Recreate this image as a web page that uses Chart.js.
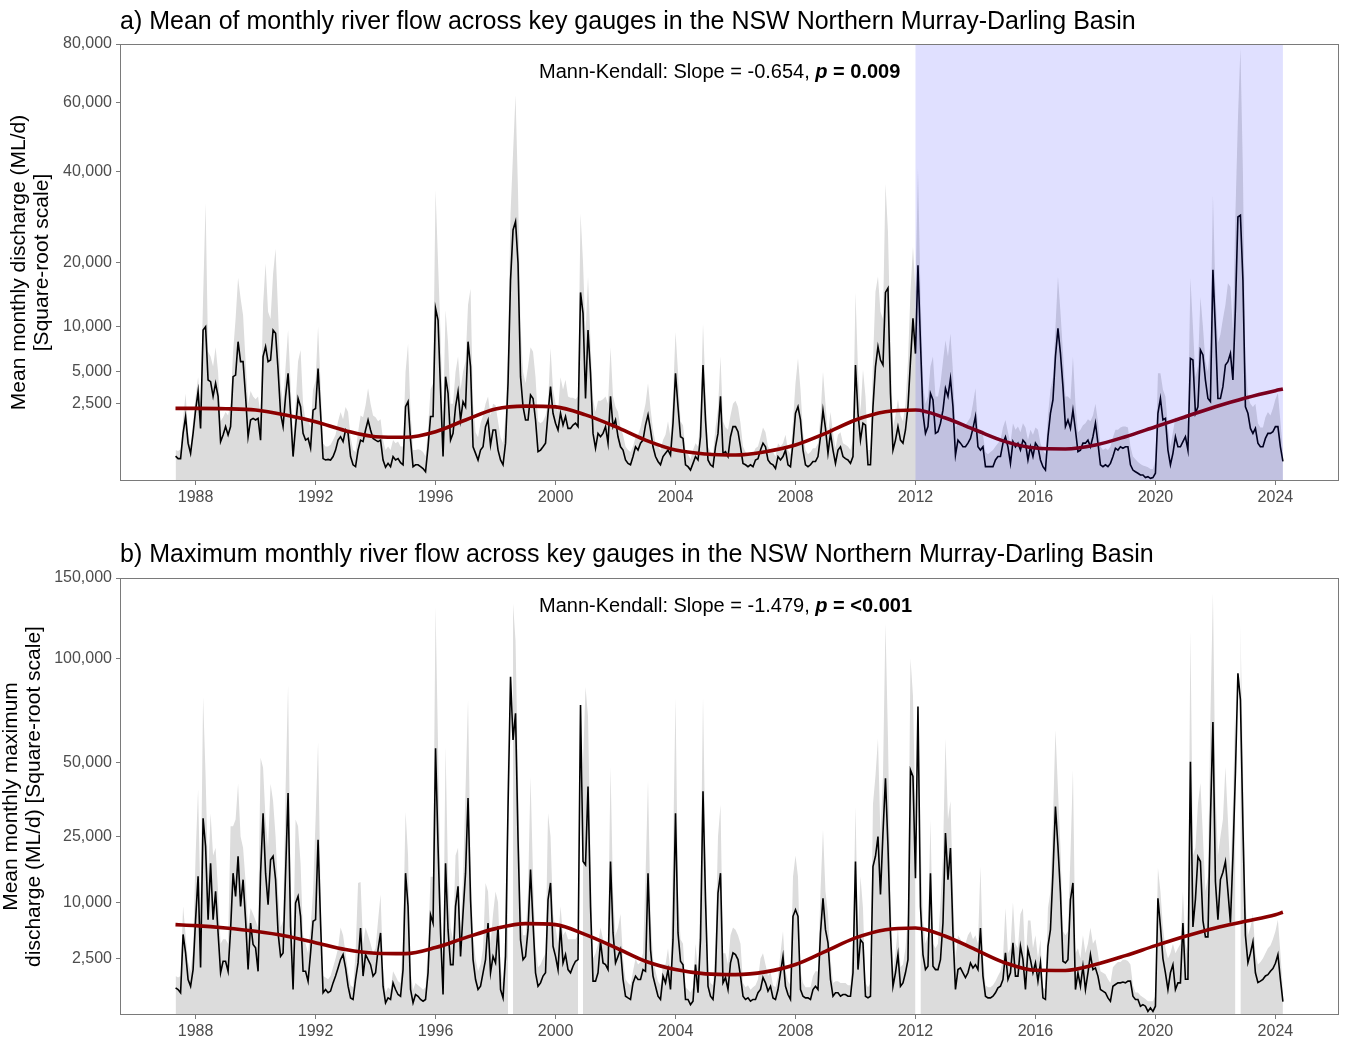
<!DOCTYPE html>
<html><head><meta charset="utf-8">
<script src="https://cdn.jsdelivr.net/npm/chart.js@4.4.1/dist/chart.umd.min.js"></script>
<style>
html,body{margin:0;padding:0;background:#fff;}
#wrap{position:relative;width:1345px;height:1046px;}
.box{position:absolute;left:0;width:1345px;height:523px;}
</style></head><body>
<div id="wrap">
<div class="box" style="top:0"><canvas id="cA"></canvas></div>
<div class="box" style="top:523px"><canvas id="cB"></canvas></div>
</div>
<script>
// ---------- DATA ----------
const START_YEAR = 1987, START_MONTH = 5; // first month: May 1987, monthly to Apr 2024

// a) mean of monthly flow (ML/d) - black line
const meanVal = [
260,210,210,950,1740,600,320,950,2100,3350,1160,9550,
9980,4270,4130,3000,4000,3000,650,890,1240,890,1240,4560,
4700,8130,5970,5970,3000,820,1560,1640,1560,1640,700,6480,
7560,5970,6130,9550,9140,5160,1920,1240,3000,4860,1920,250,
1240,2850,2310,950,700,760,450,2100,2200,5300,1920,210,
185,195,185,250,400,700,820,650,1090,950,250,110,
86,400,700,650,1090,1560,1090,760,700,650,700,185,
80,130,86,250,185,210,140,110,2310,2640,700,86,
110,110,86,65,36,490,1740,1740,12500,10860,3470,250,
4560,3220,700,950,2310,3350,1560,2640,2310,8130,5480,490,
320,185,400,490,1240,1560,540,1090,1090,400,185,110,
600,4000,16900,26400,28200,19850,4560,2310,1560,1560,3100,2850,
1560,360,400,490,600,1920,3730,1920,1400,1090,1920,1310,
1740,1160,1160,1310,1400,1240,14900,11780,2850,9550,4860,950,
450,950,820,950,1240,600,3000,1240,1560,820,490,400,
185,130,110,250,490,400,600,700,1310,1830,1090,490,
250,160,110,250,320,400,280,1400,4860,2310,820,760,
110,86,50,130,250,185,820,5640,1560,185,110,86,
490,950,3000,320,360,250,820,1240,1240,1020,490,130,
110,86,110,86,185,210,400,600,490,185,130,110,
65,250,185,250,400,110,86,600,1920,2310,1560,400,
110,86,110,160,160,250,820,2100,1160,320,950,400,
130,400,490,250,210,185,130,250,5640,1920,700,1400,
1310,110,110,2310,5480,7560,6130,5640,14900,15600,3220,400,
700,1240,700,600,1090,2310,6000,11100,6800,19500,8000,1900,
950,1240,3220,2750,950,1020,1400,2100,3600,3000,4400,2310,
280,700,600,490,490,600,760,1160,1740,490,400,490,
86,86,86,86,185,250,250,600,820,490,130,650,
490,600,400,700,600,185,490,250,600,490,185,86,
50,820,1920,2750,6500,9760,6830,3730,1240,1560,1160,2100,
1090,360,400,600,600,700,490,820,1400,600,110,86,
110,86,130,250,450,400,490,450,490,490,110,50,
36,25,15,15,5,8,3,5,25,1920,2850,1560,
1640,400,110,320,820,490,490,650,820,400,6300,6130,
1920,2310,7190,6650,4270,2850,2640,18700,9550,2850,2850,3730,
5640,5970,6830,4270,12500,29200,29600,16900,2300,1920,1160,950,
1160,600,490,490,760,950,950,1020,1240,1240,490,160
];
// a) upper envelope (grey ribbon)
const meanHi = [
400,380,420,1600,3200,1000,500,1500,3000,4500,2500,14000,
32400,7000,6500,5500,7500,5000,1500,1700,2000,1800,2500,7000,
11000,17300,14000,11500,6000,2500,3400,3000,2800,3000,1800,13000,
19850,12000,11000,18000,22600,12000,4000,2500,5500,9550,4000,800,
2500,6000,7200,2500,1500,1600,1200,3500,4200,10000,4000,600,
500,500,550,700,900,1500,2000,1600,2300,2000,800,400,
350,1000,1800,1700,2400,3600,2500,1800,1700,1500,1600,700,
400,500,400,700,600,650,500,500,5000,7900,2000,400,
400,420,400,350,250,1200,3500,4000,35500,20000,9000,1500,
12200,8000,2500,2500,5000,6500,3500,5000,6000,13000,15500,2500,
1000,800,1400,1800,2500,3000,1800,2500,2400,1500,800,600,
1800,8000,30000,45000,62400,35000,10000,5000,4000,5500,7500,7000,
4500,1500,1400,1500,1800,2500,7400,3500,2500,2000,4500,3500,
4300,3000,2900,2900,2800,3000,30000,20000,9000,17500,8000,2800,
2000,2700,2700,2800,3000,2500,7500,3000,2300,2000,1200,900,
500,400,350,500,800,900,1200,1800,2500,4000,2200,1100,
600,500,400,700,900,1500,800,3000,9300,5000,1500,1300,
400,300,200,400,600,500,1800,10400,3500,500,350,300,
1200,2200,6500,1500,1200,1100,1800,2500,2700,2300,1400,500,
350,300,350,300,450,500,800,1200,1000,500,400,350,
250,600,500,600,900,400,300,1500,4000,6300,3500,1000,
400,300,350,450,450,600,1800,5000,2500,900,2000,1000,
450,900,1000,600,550,500,400,700,14900,5200,2000,5200,
3000,400,400,6000,15000,17500,12000,11000,37000,26000,8000,1200,
1800,2800,1800,1500,2500,6000,15000,23000,15000,41000,15000,4000,
2500,3000,5500,6500,3000,3000,4000,6000,8300,6500,9100,5000,
1200,1400,1300,1200,1300,1500,1700,2500,3600,1200,900,900,
350,300,350,400,500,600,700,1200,1560,1000,600,1400,
1100,1250,1000,1400,1200,700,1100,900,1200,1100,600,400,
300,1800,3500,4500,10000,17500,12000,7000,3000,3000,2800,6500,
2500,1000,1100,1300,1400,1600,1500,1800,2500,1500,500,400,
450,400,500,800,1100,1100,1200,1250,1240,1200,500,250,
200,150,120,100,90,80,60,60,200,4860,4860,3500,
3000,1200,500,1000,1700,1600,1500,1700,1900,1500,17300,10000,
4500,5500,14200,10000,6000,5000,8000,34300,15000,8000,9000,11000,
13000,16400,15800,9500,30000,55000,78500,40000,6000,3000,2500,2300,
2500,1400,1200,1200,1700,2000,1800,2200,2800,3250,1500,400
];
// b) maximum monthly flow (ML/d) - black line
const maxVal = [
580,510,390,5100,3030,990,650,1620,7140,15100,1780,30400,
22300,7140,18100,7140,12000,5290,1400,2270,2270,1500,5720,15800,
11060,19800,9270,14380,7140,1630,6650,3900,3540,1500,15800,32000,
15800,9550,18900,19800,14400,5290,2700,3030,15800,38700,6180,510,
9860,11060,7650,1500,1500,900,3030,6900,7140,24100,6650,390,
510,390,450,810,1190,1740,2410,2870,1740,650,230,190,
990,2130,5950,1190,2870,2410,1990,1190,1400,3370,5290,650,
117,230,190,810,510,330,277,1620,15800,9270,510,117,
330,277,190,150,190,1400,7900,6650,55900,22300,5290,330,
18100,5720,1990,1990,9270,13000,2700,8180,15800,37000,10440,2410,
990,510,650,1400,2410,6650,1400,2700,2130,6180,510,230,
2700,34100,89900,59400,71500,24100,4460,2410,2700,5720,16600,6650,
1400,650,810,1190,1400,10440,13700,3710,2700,1620,6180,2130,
2870,1620,1400,1870,2270,2410,75500,18500,17700,41000,9270,900,
900,1400,4270,2130,1990,1620,18500,5290,2130,2700,3370,990,
277,230,190,810,1190,990,990,1620,1500,15800,3370,1190,
650,277,190,1190,810,1620,510,4460,32000,5290,2270,1990,
190,190,85,150,1990,390,4460,39300,10440,650,277,190,
1400,11700,15800,810,1100,510,2130,3030,2870,2410,1190,277,
190,230,150,190,190,390,510,1100,810,450,650,230,
190,510,1400,2700,650,330,190,7650,8700,7650,510,277,
230,230,190,510,650,510,5290,10700,5720,4080,990,277,
390,390,277,330,330,277,277,1400,18500,1620,4460,4080,
277,230,277,17300,19800,25000,11400,26000,44000,22300,5290,650,
1400,2870,650,810,1400,2410,47200,44700,14700,74700,9270,2870,
1620,1870,15800,1870,1620,1620,2410,6650,26000,14400,21900,5290,
510,1620,1740,1400,1100,1400,2130,1740,1990,1620,5950,1190,
277,230,230,277,386,580,650,990,3030,990,1400,4080,
1190,1190,3710,2410,510,3370,2410,1400,2130,900,2130,230,
190,3710,5720,15800,34150,22300,11700,2270,2130,2410,10440,13700,
510,1400,650,1870,510,1400,2870,1620,1740,1190,510,450,
390,230,150,650,730,810,810,850,810,900,900,277,
190,190,61,85,61,10,40,10,61,10700,6180,2500,
1400,510,1400,1990,510,810,810,6650,1000,1000,50400,6100,
10500,19700,18500,7000,4800,4800,30000,67400,14000,7140,14400,16000,
18500,12000,6700,19800,45900,91700,78000,28000,5000,2150,3000,4200,
1400,830,900,1000,1200,1280,1500,1700,2100,2860,1000,140
];
// b) upper envelope (grey ribbon); null = beyond the axis limit (gap)
const maxHi = [
1200,1100,1200,9300,5000,2200,1500,3500,20000,40000,9000,79500,
45000,15000,32000,20000,22000,12000,4000,4500,4500,4000,28000,28000,
30000,42000,25000,22000,14000,6000,9000,8000,7000,6000,52000,48000,
30000,22000,42000,36000,25000,12000,6000,7000,40000,85500,15000,2500,
30000,28000,18000,5000,4000,3000,6000,12000,30000,58500,12000,1200,
1100,1000,1200,1800,2500,3500,6000,5000,3000,1500,700,600,
3000,13700,13900,4000,6000,5000,4000,3000,3500,7000,11400,1800,
400,600,500,1500,1200,900,800,5000,32400,20000,1500,500,
800,700,600,500,600,4000,15000,15000,130700,56500,12000,1500,
56500,15000,6000,4500,20000,22000,6000,15000,40000,78000,18000,5000,
2500,1500,2000,3500,13700,12000,4000,8000,12000,10000,1800,800,
6000,60000,null,133000,110000,44600,10000,5000,5000,12000,44600,15000,
3500,1800,2000,2500,3000,32000,25000,8000,6000,4000,9300,5000,
5500,4500,4500,4500,4500,5000,null,50000,84500,70000,20000,2500,
3000,4000,6000,4500,4000,4000,48400,12000,5000,6000,8000,2500,
1000,800,700,1500,2500,2000,2200,3000,15000,43400,8000,2500,
1500,900,700,2000,2000,3500,1500,20000,79000,12000,4500,4000,
600,500,400,600,4000,1500,12000,79500,20000,1500,800,700,
4000,25000,34700,3000,3000,2000,5000,6000,5700,5000,4000,800,
600,700,500,600,700,1000,2500,3000,2000,1200,1500,700,
600,1200,3000,5500,1500,900,700,15000,20000,15000,1500,800,
600,600,600,1200,1500,1500,12000,27000,12000,8000,2500,800,
900,900,800,800,800,700,700,4000,34100,5000,15100,9000,
800,600,800,35000,45000,60000,25000,45000,120600,60000,12000,1500,
3000,6000,1800,2000,3500,8000,100000,80000,30000,null,25000,7000,
4000,5000,30000,4000,3500,4000,10000,20000,60000,30000,36000,12000,
2500,5000,4500,4000,4000,5000,5500,4500,5000,4000,17300,3000,
700,600,600,700,900,1200,1500,2500,9000,3000,3500,10000,
4000,3500,8000,9000,2000,7000,7000,3500,5000,2500,4500,600,
500,9000,12000,30000,63800,40000,22000,5500,5000,5500,20000,47200,
3000,3500,2500,5000,3000,4000,6000,4000,4500,3000,1500,1400,
1300,1000,800,1800,2000,2200,2200,2400,2400,2300,2000,700,
400,400,300,250,200,150,150,150,300,17000,12000,6000,
3500,2500,3000,4000,3000,3500,4000,12000,4000,3000,116000,20000,
22000,35000,42300,25000,12000,15000,70000,140000,40000,20000,25000,30000,
48400,30000,15000,35000,80000,null,120600,50000,10000,5000,6000,8000,
3000,2000,2200,2500,3000,3500,3800,4500,5500,7140,3000,500
];

// smoothed trend lines (read at yearly steps)
const trendYears = [1987.33,1988,1989,1990,1991,1992,1993,1994,1995,1996,1997,1998,1999,2000,2001,2002,2003,2004,2005,2006,2007,2008,2009,2010,2011,2012,2013,2014,2015,2016,2017,2018,2019,2020,2021,2022,2023,2024,2024.25];
const trendMean = [2210,2210,2190,2110,1825,1470,1060,823,800,1020,1560,2170,2350,2300,1830,1235,700,400,305,283,360,543,950,1560,2010,2110,1660,1090,650,455,430,543,823,1235,1730,2310,2890,3420,3540];
const trendMax = [6410,6280,5950,5500,4900,4110,3360,3000,2960,3570,4700,5860,6560,6420,5070,3570,2270,1620,1330,1280,1460,2000,3190,4670,5720,5950,4870,3360,2130,1570,1560,2000,2770,3780,4870,5950,6890,7900,8280];

const xTickYears = [1988,1992,1996,2000,2004,2008,2012,2016,2020,2024];
const yTicksA = [2500,5000,10000,20000,40000,60000,80000];
const yTicksB = [2500,10000,25000,50000,100000,150000];
const shadeA = [2012.0, 2024.25];

[meanVal, meanHi, maxVal, maxHi].forEach((a, i) => {
  if (a.length !== 444) throw new Error('array ' + i + ' length ' + a.length);
});

// ---------- SCALE ----------
class SqrtScale extends Chart.LinearScale {
  static id = 'sqrt';
  static defaults = Chart.LinearScale.defaults;
  getPixelForValue(value) {
    const a = Math.sqrt(this.min), b = Math.sqrt(this.max);
    const v = Math.sqrt(Math.max(0, value));
    return this.getPixelForDecimal((v - a) / (b - a));
  }
  getValueForPixel(pixel) {
    const a = Math.sqrt(this.min), b = Math.sqrt(this.max);
    const s = a + this.getDecimalForPixel(pixel) * (b - a);
    return s * s;
  }
}
Chart.register(SqrtScale);

const FONT = '"Liberation Sans", Arial, Helvetica, sans-serif';
const monthDates = meanVal.map((_, k) => START_YEAR + (START_MONTH - 1 + k) / 12);
const pts = vals => vals.map((v, i) => ({x: monthDates[i], y: v}));
const tpts = vals => vals.map((v, i) => ({x: trendYears[i], y: v}));

const decor = {
  id: 'decor',
  afterDatasetsDraw(chart, args, o) {
    const {ctx, chartArea: a, scales: {x}} = chart;
    if (o.shade) {
      const x0 = x.getPixelForValue(o.shade[0]), x1 = x.getPixelForValue(o.shade[1]);
      ctx.save();
      ctx.fillStyle = 'rgba(0,0,255,0.12)';
      ctx.fillRect(x0, a.top, x1 - x0, a.bottom - a.top);
      ctx.restore();
    }
  },
  afterDraw(chart, args, o) {
    const {ctx, chartArea: a} = chart;
    ctx.save();
    ctx.strokeStyle = '#7a7a7a';
    ctx.lineWidth = 1;
    ctx.strokeRect(Math.round(a.left) + 0.5, Math.round(a.top) + 0.5, Math.round(a.right - a.left) - 1, Math.round(a.bottom - a.top) - 1);
    ctx.fillStyle = '#000';
    ctx.textAlign = 'left';
    ctx.textBaseline = 'alphabetic';
    ctx.font = '25px ' + FONT;
    ctx.fillText(o.title, a.left, o.titleY);
    let xx = o.mkX;
    ctx.font = '20px ' + FONT;
    ctx.fillText(o.mk1, xx, o.mkY); xx += ctx.measureText(o.mk1).width;
    ctx.font = 'italic bold 20px ' + FONT;
    ctx.fillText('p', xx, o.mkY); xx += ctx.measureText('p').width;
    ctx.font = 'bold 20px ' + FONT;
    ctx.fillText(o.mk2, xx, o.mkY);
    ctx.restore();
  }
};
Chart.register(decor);

function makeChart(id, cfg) {
  return new Chart(document.getElementById(id), {
    type: 'line',
    data: {
      datasets: [
        {data: tpts(cfg.trend), borderColor: '#8B0000', borderWidth: 3.6, pointRadius: 0, cubicInterpolationMode: 'monotone', fill: false, order: 0},
        {data: pts(cfg.val), borderColor: '#000000', borderWidth: 1.6, pointRadius: 0, tension: 0, fill: false, order: 1},
        {data: pts(cfg.hi), borderWidth: 0, borderColor: 'rgba(0,0,0,0)', backgroundColor: '#DCDCDC', pointRadius: 0, tension: 0, fill: 'origin', spanGaps: false, order: 2}
      ]
    },
    options: {
      responsive: true, maintainAspectRatio: false, animation: false, devicePixelRatio: 1,
      layout: {padding: {top: cfg.padTop, right: 6, bottom: 0, left: 0}},
      plugins: {
        legend: {display: false}, tooltip: {enabled: false}, title: {display: false},
        decor: cfg.decor
      },
      scales: {
        x: {
          type: 'linear', min: 1985.48, max: 2026.12,
          afterBuildTicks: s => { s.ticks = xTickYears.map(v => ({value: v})); },
          afterFit: s => { s.height = cfg.xH; },
          grid: {display: true, drawOnChartArea: false, drawTicks: true, tickLength: 4, color: '#7a7a7a'},
          border: {display: false},
          ticks: {callback: v => String(v), font: {family: FONT, size: 16}, color: '#4d4d4d', padding: 3, maxRotation: 0, autoSkip: false}
        },
        y: {
          type: 'sqrt', min: 0, max: cfg.yMax,
          afterBuildTicks: s => { s.ticks = cfg.yTicks.map(v => ({value: v})); },
          afterFit: s => { s.width = 120; },
          grid: {display: true, drawOnChartArea: false, drawTicks: true, tickLength: 4, color: '#7a7a7a'},
          border: {display: false},
          ticks: {callback: v => Number(v).toLocaleString('en-US'), font: {family: FONT, size: 16}, color: '#4d4d4d', padding: 4, autoSkip: false},
          title: {display: true, text: cfg.yTitle, color: '#000', font: {family: FONT, size: 21, lineHeight: 1.1}, padding: {top: cfg.yTitlePad, bottom: 0}}
        }
      }
    }
  });
}

makeChart('cA', {
  val: meanVal, hi: meanHi, trend: trendMean, yMax: 80000, yTicks: yTicksA, padTop: 44, xH: 42,
  yTitle: ['Mean monthly discharge (ML/d)', '[Square-root scale]'], yTitlePad: 8,
  decor: {shade: shadeA, title: 'a) Mean of monthly river flow across key gauges in the NSW Northern Murray-Darling Basin', titleY: 29,
          mk1: 'Mann-Kendall: Slope = -0.654, ', mk2: ' = 0.009', mkX: 539, mkY: 78}
});
makeChart('cB', {
  val: maxVal, hi: maxHi, trend: trendMax, yMax: 150000, yTicks: yTicksB, padTop: 55, xH: 31,
  yTitle: ['Mean monthly maximum', 'discharge (ML/d) [Square-root scale]'], yTitlePad: 0,
  decor: {shade: null, title: 'b) Maximum monthly river flow across key gauges in the NSW Northern Murray-Darling Basin', titleY: 39,
          mk1: 'Mann-Kendall: Slope = -1.479, ', mk2: ' = <0.001', mkX: 539, mkY: 89}
});
</script>
</body></html>
